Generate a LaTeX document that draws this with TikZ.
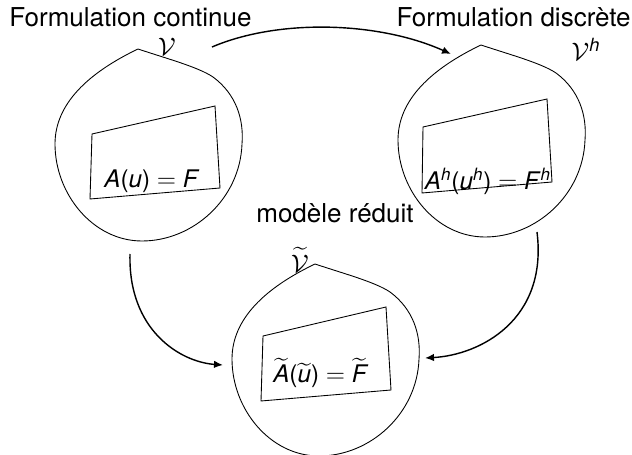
\documentclass[tikz,border=0pt]{standalone}
\usepackage{amsmath}
\usepackage{fontspec}
\setmainfont{TeX Gyre Heros}
\usetikzlibrary{arrows.meta}

\begin{document}
\begin{tikzpicture}[
  x=0.02cm, y=-0.02cm,
  font=\fontsize{14.8}{17}\selectfont,
  outline/.style={draw=black, line width=0.5pt},
  flow/.style={-{Latex[length=1.8mm,width=1.5mm]}, draw=black, line width=0.8pt},
  title/.style={anchor=base, inner sep=0pt},
  eq/.style={anchor=base, inner sep=0pt, font=\fontsize{13.8}{16}\selectfont},
  space/.style={inner sep=0pt},
  blob/.pic={
    \draw[outline] (0,0) .. controls (30,10) and (60,18) .. (75,28)
      .. controls (98,45) and (106,70) .. (104,95)
      .. controls (102,150) and (55,192) .. (4,192)
      .. controls (-45,192) and (-83,145) .. (-83,95)
      .. controls (-83,55) and (-50,24) .. cycle;
  },
]
\useasboundingbox (0,0) rectangle (632,455);

% ---------- the three spaces ----------
\pic at (138,49) {blob};
\pic at (481,45) {blob};
\pic at (315,264) {blob};

% ---------- problem boxes ----------
\draw[outline] (92,134) -- (215,106) -- (220,188) -- (90,199) -- cycle;
\draw[outline] (423,127) -- (547,99) -- (552,182) -- (422,193) -- cycle;
\draw[outline] (263,336) -- (386,307) -- (391,390) -- (261,401) -- cycle;

% ---------- titles ----------
\node[title, anchor=base west] (contT) at (9,27) {Formulation continue};
\node[title, anchor=base east] (discT) at (631,27) {Formulation discrète};
\node[title] (redT) at (335,223) {modèle réduit};

% ---------- spaces ----------
\node[space] (contV) at (167,47) {$\mathcal{V}$};
\node[space] (discV) at (586,49) {$\mathcal{V}^{\textit{h}}$};
\node[space] (redV) at (300,260) {$\widetilde{\mathcal{V}}$};

% ---------- equations ----------
\node[eq] (contEq) at (152,188) {\textit{A}(\textit{u}) $=$ \textit{F}};
\node[eq] (discEq) at (488,190)
  {\textit{A}\textsuperscript{\textit{h}}(\textit{u}\textsuperscript{\textit{h}}) $=$ \textit{F}\textsuperscript{\textit{h}}};
\node[eq] (redEq) at (320,383)
  {$\widetilde{\textit{A}}$($\widetilde{\textit{u}}$) $=$ $\widetilde{\textit{F}}$};

% ---------- arrows ----------
\coordinate (contOut) at (212,47);
\coordinate (discIn) at (451,54);
\coordinate (contDown) at (130,254);
\coordinate (redLeft) at (223,365);
\coordinate (discDown) at (537,232);
\coordinate (redRight) at (425,358);
\draw[flow] (contOut) .. controls (280,18) and (380,22) .. (discIn);
\draw[flow] (contDown) .. controls (128,330) and (180,362) .. (redLeft);
\draw[flow] (discDown) .. controls (548,320) and (480,355) .. (redRight);

\end{tikzpicture}
\end{document}
